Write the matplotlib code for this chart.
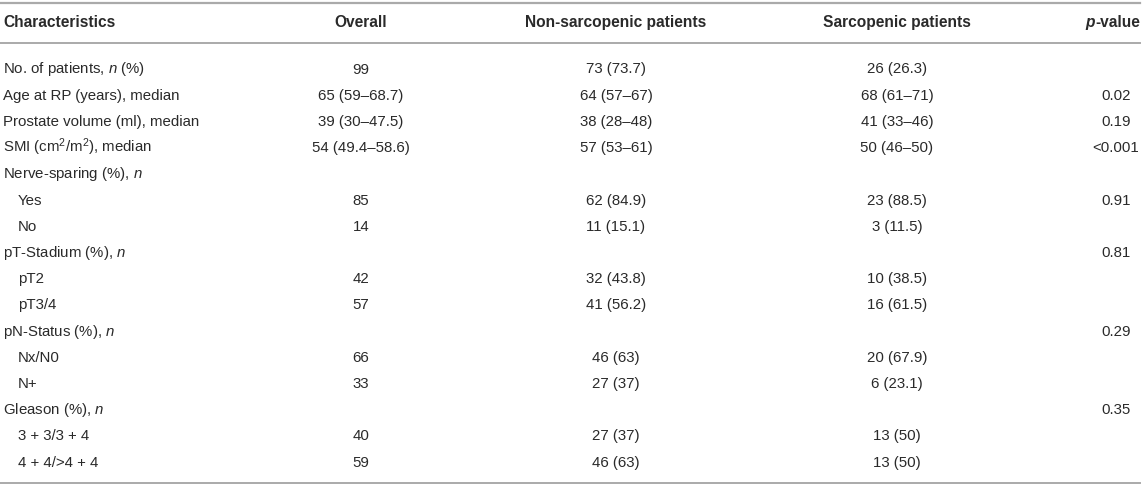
import matplotlib
matplotlib.use("Agg")
import matplotlib.pyplot as plt

plt.rcParams['font.family'] = ['Liberation Sans', 'DejaVu Sans']
plt.rcParams['mathtext.fontset'] = 'custom'
plt.rcParams['mathtext.rm'] = 'Liberation Sans'
plt.rcParams['mathtext.it'] = 'Liberation Sans:italic'
plt.rcParams['mathtext.bf'] = 'Liberation Sans:bold'

# Table content
headers = ["Characteristics", "Overall", "Non-sarcopenic patients", "Sarcopenic patients"]
characteristics = [
    "No. of patients, $n$ (%)",
    "Age at RP (years), median",
    "Prostate volume (ml), median",
    "SMI (cm$^2$/m$^2$), median",
    "Nerve-sparing (%), $n$",
    "Yes",
    "No",
    "pT-Stadium (%), $n$",
    "pT2",
    "pT3/4",
    "pN-Status (%), $n$",
    "Nx/N0",
    "N+",
    "Gleason (%), $n$",
    "3 + 3/3 + 4",
    "4 + 4/>4 + 4",
]
indented = [False, False, False, False, False, True, True, False, True, True,
            False, True, True, False, True, True]
overall = ["99", "65 (59–68.7)", "39 (30–47.5)", "54 (49.4–58.6)", "", "85", "14",
           "", "42", "57", "", "66", "33", "", "40", "59"]
non_sarcopenic = ["73 (73.7)", "64 (57–67)", "38 (28–48)", "57 (53–61)", "", "62 (84.9)",
                  "11 (15.1)", "", "32 (43.8)", "41 (56.2)", "", "46 (63)", "27 (37)", "",
                  "27 (37)", "46 (63)"]
sarcopenic = ["26 (26.3)", "68 (61–71)", "41 (33–46)", "50 (46–50)", "", "23 (88.5)",
              "3 (11.5)", "", "10 (38.5)", "16 (61.5)", "", "20 (67.9)", "6 (23.1)", "",
              "13 (50)", "13 (50)"]
p_values = ["", "0.02", "0.19", "<0.001", "", "0.91", "", "0.81", "", "", "0.29", "",
            "", "0.35", "", ""]

W, H = 1143, 486
fig = plt.figure(figsize=(W / 100, H / 100), dpi=100)
ax = fig.add_axes([0, 0, 1, 1])
ax.set_xlim(0, W)
ax.set_ylim(H, 0)
ax.axis('off')

fs = 10.8
fs_head = 11.2
col = '#2a2a2a'
line_col = '#aaaaaa'
base_off = 5.5  # baseline offset below row centre (px)

# column centres (px)
x_lab, x_ind = 3, 18
x_all, x_non, x_sar, x_p = 361, 616, 897, 1116

# rules
ax.plot([0, 1140], [3, 3], color=line_col, lw=1.6)
ax.plot([0, 1140], [43, 43], color=line_col, lw=1.4)
ax.plot([0, 1140], [482.5, 482.5], color=line_col, lw=1.4)

# header
hy = 21.5 + base_off
ax.text(x_lab, hy, headers[0], fontsize=fs_head, fontweight='bold', color=col, ha='left', va='baseline')
ax.text(x_all, hy, headers[1], fontsize=fs_head, fontweight='bold', color=col, ha='center', va='baseline')
ax.text(x_non, hy, headers[2], fontsize=fs_head, fontweight='bold', color=col, ha='center', va='baseline')
ax.text(x_sar, hy, headers[3], fontsize=fs_head, fontweight='bold', color=col, ha='center', va='baseline')
t_val = ax.text(1140, hy, "-value", fontsize=fs_head, fontweight='bold', color=col, ha='right', va='baseline')
fig.canvas.draw()
bb = t_val.get_window_extent()
xp0 = ax.transData.inverted().transform((bb.x0, bb.y0))[0]
ax.text(xp0, hy, "p", fontsize=fs_head, fontweight='bold', style='italic', color=col,
        ha='right', va='baseline')

# body rows
y0, dy = 68, 26.2
for i in range(len(characteristics)):
    y = y0 + i * dy + base_off
    ax.text(x_ind if indented[i] else x_lab, y, characteristics[i], fontsize=fs, color=col,
            ha='left', va='baseline')
    ax.text(x_all, y, overall[i], fontsize=fs, color=col, ha='center', va='baseline')
    ax.text(x_non, y, non_sarcopenic[i], fontsize=fs, color=col, ha='center', va='baseline')
    ax.text(x_sar, y, sarcopenic[i], fontsize=fs, color=col, ha='center', va='baseline')
    ax.text(x_p, y, p_values[i], fontsize=fs, color=col, ha='center', va='baseline')

fig.savefig("out.png", dpi=100)
